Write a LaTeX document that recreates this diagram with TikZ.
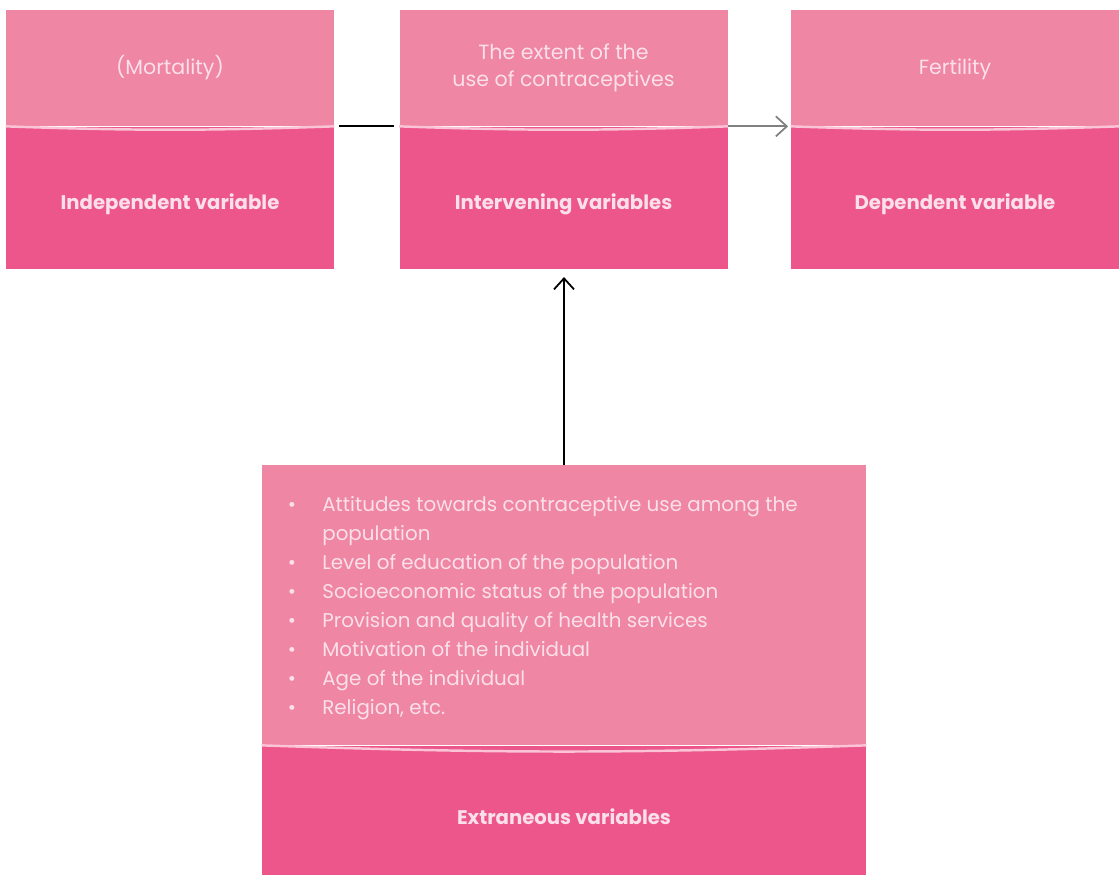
\documentclass[tikz,border=0pt]{standalone}
\usepackage{fontspec}
\setmainfont{Poppins}
\usetikzlibrary{positioning}
\usetikzlibrary{arrows.meta}
\definecolor{light pink}{RGB}{239,134,163}
\definecolor{deep pink}{RGB}{236,86,138}
\definecolor{pale text}{RGB}{251,224,234}
\definecolor{seam}{RGB}{250,196,214}
\tikzstyle{upper part}=[rectangle, fill=light pink, text=pale text, minimum width=6.56cm, minimum height=2.32cm, inner sep=0, align=center, font=\fontsize{11.7}{15}\selectfont]
\tikzstyle{lower part}=[rectangle, fill=deep pink, text=pale text, minimum width=6.56cm, minimum height=2.84cm, inner sep=0, font=\bfseries\fontsize{11.2}{15}\selectfont]
\tikzstyle{seam line}=[draw=seam, line width=1.4pt]
\tikzstyle{link}=[line width=1pt]
\tikzstyle{barb}=[-{Straight Barb[length=2.2mm, width=4mm, line width=1pt]}]
\newcommand{\lowlabel}[1]{\raisebox{-0.24cm}[0pt][0pt]{#1}}

\begin{document}
\begin{tikzpicture}
      \useasboundingbox (0, 0) rectangle (22.4, 17.48);

      % top row
      \node[upper part] (mort) at (3.4, 16.12) {(Mortality)};
      \node[lower part, below=0pt of mort] (indep) {\lowlabel{Independent variable}};

      \node[upper part] (contra) at (11.27, 16.12) {The extent of the\\use of contraceptives};
      \node[lower part, below=0pt of contra] (interv) {\lowlabel{Intervening variables}};

      \node[upper part] (fert) at (19.1, 16.12) {Fertility\vphantom{()}};
      \node[lower part, below=0pt of fert] (dep) {\lowlabel{Dependent variable}};

      % bottom box
      \node[upper part, minimum width=12.08cm, minimum height=5.6cm] (extra) at (11.28, 5.38) {};
      \node[lower part, minimum width=12.08cm, minimum height=2.58cm, below=0pt of extra] (extran) {\raisebox{-0.28cm}[0pt][0pt]{Extraneous variables}};
      \node[anchor=north west, inner sep=0, text=pale text, font=\fontsize{11.3}{16.5}\selectfont] (factors) at (5.75, 7.66) {%
        \begin{tabular}{@{}p{0.69cm}@{}l@{}}
          • & Attitudes towards contraceptive use among the\\
            & population\\
          • & Level of education of the population\\
          • & Socioeconomic status of the population\\
          • & Provision and quality of health services\\
          • & Motivation of the individual\\
          • & Age of the individual\\
          • & Religion, etc.
        \end{tabular}};

      % seams between the two halves
      \foreach \part in {mort, contra, fert, extra}
        \draw[seam line] (\part.south west) to[out=-2, in=182] (\part.south east);

      % connectors
      \draw[link, shorten <=0.1cm, shorten >=0.1cm] (mort.south east) -- (contra.south west);
      \draw[link, barb, gray] (contra.south east) -- ([xshift=-0.05cm]fert.south west);
      \draw[link, barb] (extra.north) -- ([yshift=-0.16cm]extra.north |- interv.south);
    \end{tikzpicture}
\end{document}
